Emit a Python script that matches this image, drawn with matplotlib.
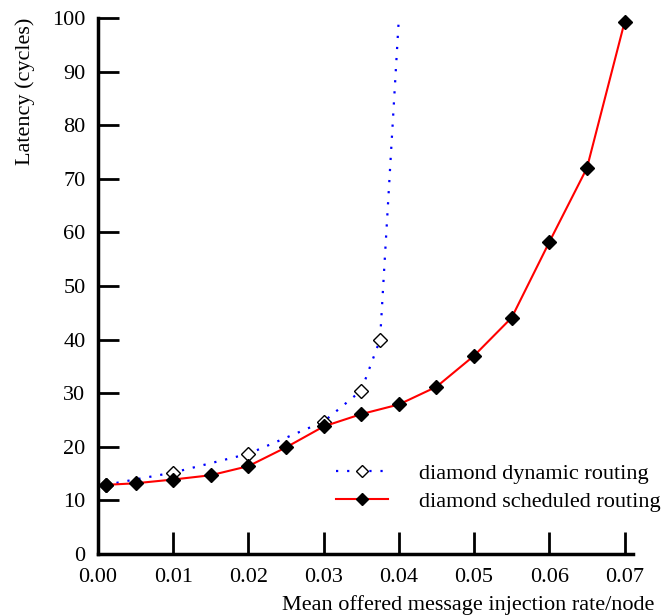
import matplotlib
matplotlib.use("Agg")
import matplotlib.pyplot as plt

plt.rcParams['font.family'] = ['Liberation Serif', 'DejaVu Serif']

# scheduled routing (red solid, filled diamonds)
sched_x = [0.001, 0.005, 0.01, 0.015, 0.02, 0.025, 0.03, 0.035, 0.04, 0.045, 0.05, 0.055, 0.06, 0.065, 0.07]
sched_y = [12.9, 13.2, 13.9, 14.7, 16.4, 19.9, 23.8, 26.1, 27.9, 31.2, 37.0, 44.1, 58.2, 72.0, 99.2]

# dynamic routing (blue dotted, open diamonds); last point is where the curve leaves the plot
dyn_x = [0.001, 0.01, 0.02, 0.03, 0.035, 0.0375, 0.04]
dyn_y = [12.9, 15.2, 18.7, 24.7, 30.5, 40.0, 100.0]

x_ticks = [0.00, 0.01, 0.02, 0.03, 0.04, 0.05, 0.06, 0.07]
y_ticks = [0, 10, 20, 30, 40, 50, 60, 70, 80, 90, 100]

fig = plt.figure(figsize=(6.64, 6.16), dpi=100)
ax = fig.add_axes([0.1476, 0.1006, 0.8054, 0.8702])

ax.plot(dyn_x, dyn_y, color='blue', linestyle=(0, (1, 4)), linewidth=1.6,
        marker='D', markersize=7.5, markerfacecolor='white', markeredgecolor='black',
        markeredgewidth=1.0, markevery=list(range(len(dyn_x) - 1)),
        label='diamond dynamic routing')
ax.plot(sched_x, sched_y, color='red', linewidth=1.5,
        marker='D', markersize=7.5, markerfacecolor='black', markeredgecolor='black',
        label='diamond scheduled routing', clip_on=False)

ax.set_xlim(0, 0.0711)
ax.set_ylim(0, 100)
ax.set_xticks(x_ticks)
ax.set_xticklabels(['%.2f' % v for v in x_ticks])
ax.set_yticks(y_ticks)

for s in ['top', 'right']:
    ax.spines[s].set_visible(False)
for s in ['left', 'bottom']:
    ax.spines[s].set_linewidth(2.5)

ax.tick_params(axis='both', direction='in', length=15, width=2, labelsize=16, pad=9)
ax.tick_params(axis='x', length=16, pad=10)

ax.set_xlabel('Mean offered message injection rate/node', fontsize=16, loc='right', va='top')
ax.xaxis.set_label_coords(1.04, -0.077)
ax.set_ylabel('Latency (cycles)', fontsize=16, loc='top')
ax.yaxis.set_label_coords(-0.118, 1.0)

ax.legend(loc='center left', bbox_to_anchor=(0.445, 0.124), frameon=False, fontsize=16,
          borderpad=0, borderaxespad=0,
          handlelength=2.35, handletextpad=1.4, labelspacing=0.32, markerscale=0.75,
          numpoints=1)

fig.savefig('out.png', dpi=100)
